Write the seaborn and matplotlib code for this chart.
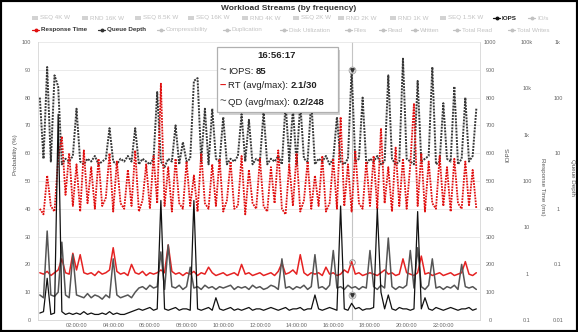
import numpy as np
import matplotlib.pyplot as plt
import seaborn as sns
from matplotlib.patches import Rectangle
from matplotlib.lines import Line2D
from matplotlib.text import Annotation
from matplotlib.ticker import NullLocator

W, H = 578, 332

# one sample every 12 minutes over the day
hours = np.arange(120) * 0.2

# series, read in "Probability (%)" units of the left axis
qd_max = [80, 58, 91, 57, 88, 84, 56, 58, 57, 59,
          76, 57, 56, 58, 57, 59, 56, 57, 58, 69,
          57, 56, 58, 57, 59, 57, 69, 56, 58, 57,
          56, 58, 82, 57, 55, 58, 57, 70, 56, 64,
          57, 58, 86, 87, 57, 76, 56, 76, 58, 57,
          73, 56, 58, 57, 59, 74, 57, 72, 56, 58,
          57, 75, 56, 58, 57, 59, 56, 78, 57, 76,
          56, 78, 58, 57, 79, 56, 58, 57, 59, 56,
          58, 73, 57, 56, 58, 90, 57, 58, 80, 56,
          58, 57, 59, 56, 57, 88, 58, 56, 57, 94,
          58, 57, 56, 86, 57, 58, 59, 91, 56, 57,
          78, 58, 57, 84, 56, 58, 80, 57, 59, 76]

rt_max = [40, 38, 52, 41, 39, 58, 66, 45, 60, 41,
          56, 39, 61, 42, 55, 40, 58, 41, 44, 60,
          39, 57, 42, 40, 54, 41, 61, 39, 43, 56,
          40, 59, 42, 85, 41, 55, 39, 58, 42, 40,
          57, 41, 52, 39, 60, 42, 40, 56, 41, 58,
          39, 43, 57, 40, 41, 59, 38, 54, 42, 40,
          58, 41, 39, 55, 42, 61, 40, 38, 56, 41,
          60, 39, 43, 57, 40, 52, 41, 59, 39, 42,
          58, 40, 73, 41, 56, 39, 61, 42, 40, 57,
          41, 59, 40, 69, 42, 55, 39, 62, 41, 58,
          40, 56, 78, 41, 60, 39, 57, 42, 40, 59,
          41, 55, 39, 58, 42, 40, 57, 41, 54, 40]

rt_avg = [17, 16.5, 17.5, 16, 17, 18, 22, 17, 16.5, 24,
          18, 23.5, 17, 16.5, 17, 16, 17.5, 16.5, 17, 18,
          26, 17.5, 16.5, 17, 16, 20, 17, 16.5, 17.5, 16,
          17, 16.5, 17, 18, 17, 27, 17.5, 16.5, 17, 16,
          17, 16.5, 17.5, 16, 17, 16.5, 19, 17, 16, 16.5,
          17, 16, 16.5, 17, 16, 20, 16.5, 17, 16, 16.5,
          17, 16, 16.5, 17, 16, 17.5, 20.5, 16.5, 17, 18,
          16.5, 23.5, 17, 16, 17, 16.5, 17, 16, 19, 16.5,
          17, 16, 16.5, 18, 17, 21, 16.5, 17, 16, 16.5,
          17, 16.5, 16, 17, 18, 16.5, 17, 16, 16.5, 22,
          17, 16.5, 16, 17, 23, 16.5, 17, 16, 16.5, 17,
          16, 16.5, 17, 16, 16.5, 17, 21, 16.5, 16, 17]

qd_avg = [9, 8, 32, 9, 8.5, 10, 28, 9, 8, 23.5,
          9, 8.5, 8, 9.5, 8, 9, 8.5, 7.5, 9, 8,
          22, 9, 8, 8.5, 9, 8, 10, 11.5, 12, 11,
          12.5, 11.5, 12, 24.5, 11, 27, 12, 11.5, 12.5, 11,
          12, 19, 11.5, 12, 11, 12.5, 11.5, 12, 11, 12,
          11.5, 12, 12.5, 11, 12, 11.5, 12, 11, 12.5, 11.5,
          12, 11, 11.5, 12.5, 12, 11, 22, 11.5, 12, 11,
          12, 11.5, 12.5, 11, 12, 23.5, 11.5, 12, 11, 12.5,
          25, 11.5, 12, 11, 12.5, 11.5, 12, 11, 12, 11.5,
          25, 12, 11, 12.5, 11.5, 29.5, 12, 11, 12, 11.5,
          12.5, 25, 11.5, 26, 12, 11, 12.5, 22, 11.5, 12,
          11, 12, 11.5, 12.5, 11, 20, 12, 11.5, 12, 11]

iops = [2.5, 3, 15, 2, 2.5, 74, 3, 2, 2.5, 2,
        2.5, 2, 3, 2, 2.5, 2, 2, 2.5, 2, 3,
        2, 2.5, 2, 2, 2.5, 3, 3.5, 4, 3.5, 4,
        4.5, 3.5, 4, 43, 4, 3.5, 4, 4.5, 3.5, 4,
        4, 3.5, 43, 4, 3.5, 4, 4.5, 3.5, 8, 4,
        3.5, 4, 4.5, 3.5, 4, 3.5, 4, 4.5, 3.5, 4,
        4, 3.5, 4, 4.5, 4, 3.5, 4, 4.5, 3.5, 4,
        4, 4.5, 3.5, 4, 4, 9, 4, 3.5, 4, 4.5,
        4, 3.5, 41, 4, 3.5, 6, 4, 4.5, 3.5, 4,
        4, 4.5, 40, 10, 4, 9, 4, 3.5, 4.5, 4,
        4, 3.5, 4, 39, 4, 8, 4, 3.5, 4.5, 4,
        3.5, 4, 4.5, 4, 3.5, 4, 4, 4.5, 3.5, 4]

x_ticks = [2, 4, 6, 8, 10, 12, 14, 16, 18, 20, 22]
x_labels = ["02:00:00", "04:00:00", "06:00:00", "08:00:00", "10:00:00", "12:00:00",
            "14:00:00", "16:00:00", "18:00:00", "20:00:00", "22:00:00"]
prob_ticks = [0, 10, 20, 30, 40, 50, 60, 70, 80, 90, 100]
iops_ticks = [0, 100, 200, 300, 400, 500, 600, 700, 800, 900, 1000]
rt_ticks = [0.1, 1, 10, 100, 1000, 10000, 100000]
rt_labels = ["0.1", "1", "10", "100", "1k", "10k", "100k"]
qd_ticks = [0.01, 0.1, 1, 10, 100, 1000]
qd_labels = ["0.01", "0.1", "1", "10", "100", "1k"]

legend_row1 = ["SEQ 4K W", "RND 16K W", "SEQ 8.5K W", "SEQ 16K W", "RND 4K W",
               "SEQ 2K W", "RND 2K W", "RND 1K W", "SEQ 1.5K W"]
legend_row2 = ["Compressibility", "Duplication", "Disk Utilization", "Files",
               "Read", "Written", "Total Read", "Total Writes"]

cursor = 85  # hovered sample, 16:56:17

sns.set_theme(style="white")
plt.rcParams['font.family'] = ['Liberation Sans', 'DejaVu Sans']


def fx(x):
    return x / W


def fy(y):
    return 1 - y / H


fig = plt.figure(figsize=(W / 100, H / 100), dpi=100)
ax = fig.add_axes([fx(38), fy(320), 442 / W, 278 / H])

# Series
sns.lineplot(x=hours, y=qd_max, ax=ax, color="#383838", lw=1.4, linestyle=(0, (1, 0.6)))
sns.lineplot(x=hours, y=rt_max, ax=ax, color="#e01010", lw=1.3, linestyle=(0, (1, 0.6)))
sns.lineplot(x=hours, y=rt_avg, ax=ax, color="#e52222", lw=1.1)
sns.lineplot(x=hours, y=qd_avg, ax=ax, color="#555555", lw=1.1)
sns.lineplot(x=hours, y=iops, ax=ax, color="#111111", lw=0.9)

# Hover cursor
ax.axvline(hours[cursor], color="#c4c4c4", lw=0.8, zorder=0.5)
ax.plot(hours[cursor], qd_max[cursor], marker="o", ms=5, mfc="#dddddd", mec="#999999", mew=0.5)
ax.plot(hours[cursor], qd_max[cursor], marker="v", ms=2.5, color="#333333")
ax.plot(hours[cursor], rt_avg[cursor], marker="o", ms=4, mfc="none", mec="#888888", mew=0.6)
ax.plot(hours[cursor], iops[cursor] + 3, marker="o", ms=5, mfc="#dddddd", mec="#999999", mew=0.5)
ax.plot(hours[cursor], iops[cursor] + 3, marker="v", ms=2.5, color="#333333")

# Axes
ax.set_xlim(-0.1, 24)
ax.set_ylim(0, 100)
ax.set_xticks(x_ticks, x_labels)
ax.set_yticks(prob_ticks, [str(v) for v in prob_ticks])
ax.tick_params(axis="both", length=0, labelsize=4, colors="#666666")
ax.tick_params(axis="x", pad=2)
ax.tick_params(axis="y", pad=5)
ax.grid(axis="y", color="#e6e6e6", lw=0.6)
ax.set_axisbelow(True)
for side in ["left", "right", "bottom"]:
    ax.spines[side].set_color("#d6d6d6")
    ax.spines[side].set_linewidth(0.6)
ax.spines["top"].set_visible(False)


def right_axis(ticks, labels, lo, hi, pad_px, log=False):
    twin = ax.twinx()
    if log:
        twin.set_yscale("log")
    twin.set_ylim(lo, hi)
    twin.set_yticks(ticks, labels)
    twin.yaxis.set_minor_locator(NullLocator())
    twin.tick_params(axis="y", length=0, labelsize=4, colors="#666666", pad=pad_px * 0.72)
    plt.setp(twin.get_yticklabels(), ha="center")
    twin.grid(False)
    for s in twin.spines.values():
        s.set_visible(False)
    return twin


right_axis(iops_ticks, [str(v) for v in iops_ticks], 0, 1000, 10)
right_axis(rt_ticks, rt_labels, 0.1, 100000, 47, log=True)
right_axis(qd_ticks, qd_labels, 0.01, 1000, 78, log=True)

# Axis titles
fig.text(fx(15), fy(155), "Probability (%)", rotation=90, fontsize=4.5, color="#555555", ha="center", va="center")
fig.text(fx(508), fy(155), "IOPS", rotation=90, fontsize=4.5, color="#555555", ha="center", va="center")
fig.text(fx(542), fy(187), "Response Time (ms)", rotation=270, fontsize=4.5, color="#555555", ha="center", va="center")
fig.text(fx(573), fy(177), "Queue Depth", rotation=270, fontsize=4.5, color="#555555", ha="center", va="center")

# Title
fig.text(fx(289), fy(9), "Workload Streams (by frequency)", fontsize=6, fontweight="bold",
         color="#333333", ha="center", va="center")

# Legend
faded = "#c2c2c2"


def legend_item(x, y, label, color, text_color, kind, weight="normal"):
    if kind == "box":
        fig.add_artist(Rectangle((fx(x), fy(y + 2)), 6 / W, 4 / H, transform=fig.transFigure,
                                 color=color, lw=0))
        tx = x + 8
    else:
        fig.add_artist(Line2D([fx(x), fx(x + 7)], [fy(y), fy(y)], transform=fig.transFigure,
                              color=color, lw=0.9))
        fig.add_artist(Line2D([fx(x + 3.5)], [fy(y)], transform=fig.transFigure, color=color,
                              marker="o", ms=1.8, lw=0))
        tx = x + 9
    fig.text(fx(tx), fy(y), label, fontsize=4.5, color=text_color, ha="left", va="center",
             fontweight=weight)


row1_x = [32, 82, 135, 188, 242, 293, 338, 390, 440]
for x, name in zip(row1_x, legend_row1):
    legend_item(x, 18, name, "#d2d2d2", faded, "box")
legend_item(493, 18, "IOPS", "#111111", "#222222", "line", "bold")
legend_item(528, 18, "IO/s", faded, faded, "line")

legend_item(32, 30, "Response Time", "#e01010", "#333333", "line", "bold")
legend_item(98, 30, "Queue Depth", "#333333", "#333333", "line", "bold")
row2_x = [157, 223, 280, 345, 379, 411, 453, 508]
for x, name in zip(row2_x, legend_row2):
    legend_item(x, 30, name, faded, faded, "line")

# Tooltip
fig.add_artist(Rectangle((fx(219), fy(115)), 121 / W, 65 / H, transform=fig.transFigure,
                         color="#000000", alpha=0.18, lw=0))
fig.add_artist(Rectangle((fx(217), fy(112)), 121 / W, 65 / H, transform=fig.transFigure,
                         facecolor="white", edgecolor="#b0b0b0", lw=0.9))
fig.text(fx(277), fy(56), "16:56:17", fontsize=6.8, fontweight="bold", color="#222222",
         ha="center", va="center", zorder=5)

tip_rows = [(71, "~", "#666666", "IOPS:", "85"),
            (86, "\u2013", "#e01010", "RT (avg/max):", "2.1/30"),
            (102, "~", "#666666", "QD (avg/max):", "0.2/248")]
for y, sym, sym_color, label, value in tip_rows:
    fig.text(fx(220), fy(y), sym, fontsize=8, color=sym_color, ha="left", va="center",
             fontweight="bold", zorder=5)
    t = fig.text(fx(228), fy(y), label, fontsize=6.8, color="#222222", ha="left", va="center",
                 zorder=5)
    val = Annotation(value, xy=(1, 0.5), xycoords=t, xytext=(2, 0), textcoords="offset points",
                     fontsize=6.8, fontweight="bold", color="#222222", ha="left", va="center",
                     annotation_clip=False)
    val.set_zorder(5)
    fig.add_artist(val)

# Outer frame of the screenshot
fig.add_artist(Rectangle((0, 0), 1, 1, transform=fig.transFigure, fill=False,
                         edgecolor="black", lw=3))

fig.savefig("out.png", dpi=100)
